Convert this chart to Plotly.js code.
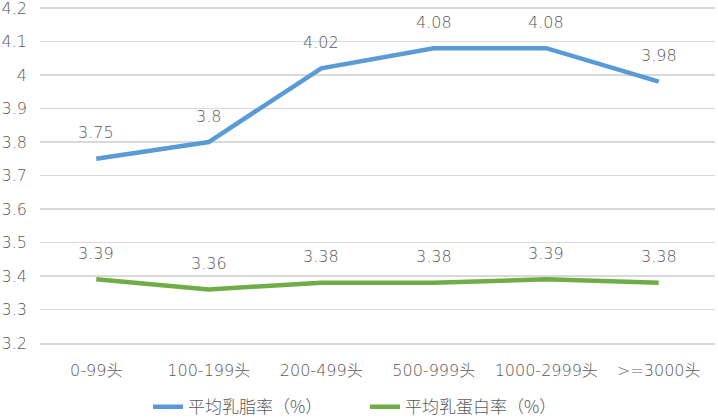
<!DOCTYPE html>
<html>
<head>
<meta charset="utf-8">
<script src="https://cdn.plot.ly/plotly-3.0.1.min.js"></script>
<style>
  html, body { margin: 0; padding: 0; background: #fff; }
  #chart { width: 718px; height: 418px; }
</style>
</head>
<body>
<div id="chart"></div>
<script>
"use strict";

// Chart data
var herdSizes = ["0-99头", "100-199头", "200-499头", "500-999头", "1000-2999头", ">=3000头"]
var fatRate = [3.75, 3.8, 4.02, 4.08, 4.08, 3.98]
var proteinRate = [3.39, 3.36, 3.38, 3.38, 3.39, 3.38]
var seriesNames = ["平均乳脂率（%）", "平均乳蛋白率（%）"]
var yTickVals = [3.2, 3.3, 3.4, 3.5, 3.6, 3.7, 3.8, 3.9, 4, 4.1, 4.2]
var yTickText = ["3.2", "3.3", "3.4", "3.5", "3.6", "3.7", "3.8", "3.9", "4", "4.1", "4.2"]

var fontFamily = "'DejaVu Sans', 'Noto Sans CJK SC', sans-serif"
var cjkFamily = "'Noto Sans CJK SC', sans-serif"
var textGray = "#595959"

function grayFont(size, family){
  return { family: family || fontFamily, size: size, color: textGray, weight: 300 }
}

var traceFat = {
  x: herdSizes,
  y: fatRate,
  type: "scatter",
  mode: "lines",
  name: seriesNames[0],
  line: { color: "#5B9BD5", width: 4.5 }
}
var traceProtein = {
  x: herdSizes,
  y: proteinRate,
  type: "scatter",
  mode: "lines",
  name: seriesNames[1],
  line: { color: "#70AD47", width: 4.5 }
}

// Value labels above each point
function labelsFor(values){
  return values.map(function(v, i){
    return {
      x: herdSizes[i],
      y: v,
      text: String(v),
      showarrow: false,
      yshift: 26,
      font: grayFont(16)
    }
  })
}

var layout = {
  width: 718,
  height: 418,
  margin: { l: 40, r: 3, t: 6, b: 75 },
  paper_bgcolor: "#fff",
  plot_bgcolor: "#fff",
  font: grayFont(16),
  showlegend: true,
  legend: {
    orientation: "h",
    x: 0.16,
    xanchor: "left",
    yref: "container",
    y: 0.026,
    yanchor: "middle",
    entrywidth: 172,
    font: grayFont(17, cjkFamily)
  },
  xaxis: {
    type: "category",
    range: [-0.5, 5.5],
    showgrid: false,
    zeroline: false,
    showline: true,
    linecolor: "#d9d9d9",
    linewidth: 1.5,
    ticks: "",
    tickfont: grayFont(16),
    ticklabelstandoff: 12
  },
  yaxis: {
    range: [3.2, 4.206],
    tickmode: "array",
    tickvals: yTickVals,
    ticktext: yTickText,
    ticklabeloverflow: "allow",
    showgrid: true,
    gridcolor: "#d9d9d9",
    gridwidth: 1.5,
    zeroline: false,
    showline: false,
    ticks: "",
    tickfont: grayFont(16),
    ticklabelstandoff: 12
  },
  annotations: labelsFor(fatRate).concat(labelsFor(proteinRate))
}

Plotly.newPlot("chart", [traceFat, traceProtein], layout, { displayModeBar: false, staticPlot: true })
</script>
</body>
</html>
